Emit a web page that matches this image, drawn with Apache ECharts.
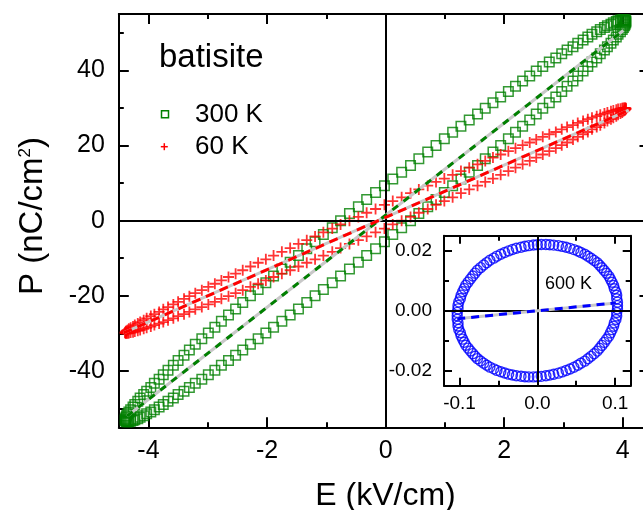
<!DOCTYPE html>
<html><head><meta charset="utf-8">
<script src="https://cdn.jsdelivr.net/npm/echarts@6/dist/echarts.min.js"></script>
<style>html,body{margin:0;padding:0;background:#fff}#c{width:643px;height:510px}</style>
</head><body><div id="c"></div>
<script>
// ---------- data ----------
const E300 = [4.05,4.05,4.04,4.03,4.01,3.99,3.96,3.92,3.89,3.84,3.80,3.74,3.69,3.62,3.56,3.48,3.41,3.33,3.24,3.16,3.06,2.97,2.87,2.76,2.65,2.54,2.43,2.31,2.19,2.07,1.94,1.81,1.68,1.55,1.41,1.27,1.13,0.99,0.85,0.71,0.56,0.42,0.27,0.12,-0.02,-0.17,-0.32,-0.46,-0.61,-0.76,-0.90,-1.05,-1.19,-1.33,-1.47,-1.61,-1.75,-1.89,-2.02,-2.15,-2.28,-2.41,-2.53,-2.65,-2.77,-2.88,-2.99,-3.10,-3.21,-3.31,-3.40,-3.50,-3.58,-3.67,-3.75,-3.82,-3.90,-3.96,-4.03,-4.08,-4.14,-4.18,-4.23,-4.26,-4.30,-4.33,-4.35,-4.37,-4.38,-4.39,
-4.39,-4.39,-4.38,-4.37,-4.35,-4.33,-4.30,-4.26,-4.23,-4.18,-4.14,-4.08,-4.03,-3.96,-3.90,-3.82,-3.75,-3.67,-3.58,-3.50,-3.40,-3.31,-3.21,-3.10,-2.99,-2.88,-2.77,-2.65,-2.53,-2.41,-2.28,-2.15,-2.02,-1.89,-1.75,-1.61,-1.47,-1.33,-1.19,-1.05,-0.90,-0.76,-0.61,-0.46,-0.32,-0.17,-0.02,0.12,0.27,0.42,0.56,0.71,0.85,0.99,1.13,1.27,1.41,1.55,1.68,1.81,1.94,2.07,2.19,2.31,2.43,2.54,2.65,2.76,2.87,2.97,3.06,3.16,3.24,3.33,3.41,3.48,3.56,3.62,3.69,3.74,3.80,3.84,3.89,3.92,3.96,3.99,4.01,4.03,4.04,4.05];
const P300 = [53.0,53.2,53.4,53.5,53.5,53.5,53.4,53.2,53.0,52.7,52.3,51.9,51.4,50.9,50.3,49.6,48.9,48.1,47.2,46.3,45.4,44.4,43.3,42.2,41.0,39.8,38.5,37.2,35.8,34.4,32.9,31.4,29.9,28.4,26.8,25.1,23.5,21.8,20.0,18.3,16.5,14.7,12.9,11.1,9.3,7.5,5.6,3.7,1.9,0,-1.9,-3.7,-5.6,-7.5,-9.3,-11.1,-12.9,-14.7,-16.5,-18.3,-20.0,-21.8,-23.5,-25.1,-26.8,-28.4,-29.9,-31.4,-32.9,-34.4,-35.8,-37.2,-38.5,-39.8,-41.0,-42.2,-43.3,-44.4,-45.4,-46.3,-47.2,-48.1,-48.9,-49.6,-50.3,-50.9,-51.4,-51.9,-52.3,-52.7,
-53.0,-53.2,-53.4,-53.5,-53.5,-53.5,-53.4,-53.2,-53.0,-52.7,-52.3,-51.9,-51.4,-50.9,-50.3,-49.6,-48.9,-48.1,-47.2,-46.3,-45.4,-44.4,-43.3,-42.2,-41.0,-39.8,-38.5,-37.2,-35.8,-34.4,-32.9,-31.4,-29.9,-28.4,-26.8,-25.1,-23.5,-21.8,-20.0,-18.3,-16.5,-14.7,-12.9,-11.1,-9.3,-7.5,-5.6,-3.7,-1.9,0,1.9,3.7,5.6,7.5,9.3,11.1,12.9,14.7,16.5,18.3,20.0,21.8,23.5,25.1,26.8,28.4,29.9,31.4,32.9,34.4,35.8,37.2,38.5,39.8,41.0,42.2,43.3,44.4,45.4,46.3,47.2,48.1,48.9,49.6,50.3,50.9,51.4,51.9,52.3,52.7];
const E60 = [4.05,4.05,4.04,4.03,4.01,3.99,3.96,3.92,3.89,3.84,3.80,3.74,3.69,3.62,3.56,3.48,3.41,3.33,3.24,3.16,3.06,2.97,2.87,2.76,2.65,2.54,2.43,2.31,2.19,2.07,1.94,1.81,1.68,1.55,1.41,1.27,1.13,0.99,0.85,0.71,0.56,0.42,0.27,0.12,-0.02,-0.17,-0.32,-0.46,-0.61,-0.76,-0.90,-1.05,-1.19,-1.33,-1.47,-1.61,-1.75,-1.89,-2.02,-2.15,-2.28,-2.41,-2.53,-2.65,-2.77,-2.88,-2.99,-3.10,-3.21,-3.31,-3.40,-3.50,-3.58,-3.67,-3.75,-3.82,-3.90,-3.96,-4.03,-4.08,-4.14,-4.18,-4.23,-4.26,-4.30,-4.33,-4.35,-4.37,-4.38,-4.39,
-4.39,-4.39,-4.38,-4.37,-4.35,-4.33,-4.30,-4.26,-4.23,-4.18,-4.14,-4.08,-4.03,-3.96,-3.90,-3.82,-3.75,-3.67,-3.58,-3.50,-3.40,-3.31,-3.21,-3.10,-2.99,-2.88,-2.77,-2.65,-2.53,-2.41,-2.28,-2.15,-2.02,-1.89,-1.75,-1.61,-1.47,-1.33,-1.19,-1.05,-0.90,-0.76,-0.61,-0.46,-0.32,-0.17,-0.02,0.12,0.27,0.42,0.56,0.71,0.85,0.99,1.13,1.27,1.41,1.55,1.68,1.81,1.94,2.07,2.19,2.31,2.43,2.54,2.65,2.76,2.87,2.97,3.06,3.16,3.24,3.33,3.41,3.48,3.56,3.62,3.69,3.74,3.80,3.84,3.89,3.92,3.96,3.99,4.01,4.03,4.04,4.05];
const P60 = [29.8,29.9,30.0,30.0,30.0,29.9,29.8,29.7,29.5,29.3,29.1,28.8,28.5,28.2,27.8,27.4,27.0,26.5,26.0,25.4,24.9,24.3,23.6,23.0,22.3,21.6,20.8,20.1,19.3,18.5,17.6,16.8,15.9,15.0,14.1,13.2,12.2,11.2,10.3,9.3,8.3,7.3,6.2,5.2,4.2,3.1,2.1,1.0,0,-1.0,-2.1,-3.1,-4.2,-5.2,-6.2,-7.3,-8.3,-9.3,-10.3,-11.2,-12.2,-13.2,-14.1,-15.0,-15.9,-16.8,-17.6,-18.5,-19.3,-20.1,-20.8,-21.6,-22.3,-23.0,-23.6,-24.3,-24.9,-25.4,-26.0,-26.5,-27.0,-27.4,-27.8,-28.2,-28.5,-28.8,-29.1,-29.3,-29.5,-29.7,
-29.8,-29.9,-30.0,-30.0,-30.0,-29.9,-29.8,-29.7,-29.5,-29.3,-29.1,-28.8,-28.5,-28.2,-27.8,-27.4,-27.0,-26.5,-26.0,-25.4,-24.9,-24.3,-23.6,-23.0,-22.3,-21.6,-20.8,-20.1,-19.3,-18.5,-17.6,-16.8,-15.9,-15.0,-14.1,-13.2,-12.2,-11.2,-10.3,-9.3,-8.3,-7.3,-6.2,-5.2,-4.2,-3.1,-2.1,-1.0,0,1.0,2.1,3.1,4.2,5.2,6.2,7.3,8.3,9.3,10.3,11.2,12.2,13.2,14.1,15.0,15.9,16.8,17.6,18.5,19.3,20.1,20.8,21.6,22.3,23.0,23.6,24.3,24.9,25.4,26.0,26.5,27.0,27.4,27.8,28.2,28.5,28.8,29.1,29.3,29.5,29.7];
const E600 = [0.103,0.103,0.102,0.102,0.101,0.099,0.098,0.096,0.094,0.092,0.089,0.086,0.083,0.080,0.077,0.073,0.069,0.065,0.061,0.056,0.052,0.047,0.042,0.037,0.032,0.027,0.021,0.016,0.011,0.005,0,-0.005,-0.011,-0.016,-0.021,-0.027,-0.032,-0.037,-0.042,-0.047,-0.052,-0.056,-0.061,-0.065,-0.069,-0.073,-0.077,-0.080,-0.083,-0.086,-0.089,-0.092,-0.094,-0.096,-0.098,-0.099,-0.101,-0.102,-0.102,-0.103,
-0.103,-0.103,-0.102,-0.102,-0.101,-0.099,-0.098,-0.096,-0.094,-0.092,-0.089,-0.086,-0.083,-0.080,-0.077,-0.073,-0.069,-0.065,-0.061,-0.056,-0.052,-0.047,-0.042,-0.037,-0.032,-0.027,-0.021,-0.016,-0.011,-0.005,0,0.005,0.011,0.016,0.021,0.027,0.032,0.037,0.042,0.047,0.052,0.056,0.061,0.065,0.069,0.073,0.077,0.080,0.083,0.086,0.089,0.092,0.094,0.096,0.098,0.099,0.101,0.102,0.102,0.103];
const P600 = [0.0017,0.00285,0.00399,0.00512,0.00624,0.00734,0.00842,0.00947,0.0105,0.0115,0.01247,0.01341,0.01431,0.01517,0.01598,0.01676,0.01749,0.01817,0.0188,0.01938,0.0199,0.02037,0.02079,0.02115,0.02145,0.02169,0.02187,0.022,0.02206,0.02206,0.022,0.02188,0.0217,0.02146,0.02117,0.02081,0.0204,0.01993,0.01941,0.01883,0.0182,0.01753,0.0168,0.01603,0.01521,0.01435,0.01346,0.01252,0.01156,0.01056,0.00953,0.00847,0.00739,0.0063,0.00518,0.00405,0.00291,0.00176,0.00061,-0.00055,
-0.0017,-0.00285,-0.00399,-0.00512,-0.00624,-0.00734,-0.00842,-0.00947,-0.0105,-0.0115,-0.01247,-0.01341,-0.01431,-0.01517,-0.01598,-0.01676,-0.01749,-0.01817,-0.0188,-0.01938,-0.0199,-0.02037,-0.02079,-0.02115,-0.02145,-0.02169,-0.02187,-0.022,-0.02206,-0.02206,-0.022,-0.02188,-0.0217,-0.02146,-0.02117,-0.02081,-0.0204,-0.01993,-0.01941,-0.01883,-0.0182,-0.01753,-0.0168,-0.01603,-0.01521,-0.01435,-0.01346,-0.01252,-0.01156,-0.01056,-0.00953,-0.00847,-0.00739,-0.0063,-0.00518,-0.00405,-0.00291,-0.00176,-0.00061,0.00055];
// straight guide lines through each loop
const fit300E = [-4.36, 4.01], fit300P = [-52.0, 50.6];
const fit60E  = [-4.42, 4.10], fit60P  = [-29.9, 29.4];
const fit600E = [-0.103, 0.101], fit600P = [-0.0027, 0.0026];
// ticks
const xMajor = [-4,-2,0,2,4], xMinor = [-3,-1,1,3];
const yMajor = [-40,-20,0,20,40], yMinor = [-50,-30,-10,10,30,50];
const ixMajor = [-0.1,0,0.1], ixMinor = [-0.05,0.05];
const iyMajor = [-0.02,0,0.02], iyMinor = [-0.01,0.01];
const seriesNames = ['300 K','60 K','600 K'];

// ---------- chart ----------
const FONT = '"Liberation Sans", Arial, Helvetica, sans-serif';
const zip = (a,b) => a.map((v,i)=>[v,b[i]]);
const chart = echarts.init(document.getElementById('c'), null, {renderer:'canvas'});

function ax(o){
  return {
    type:'value', gridIndex:o.g, position:o.pos, min:o.min, max:o.max,
    axisLine:{show:!!o.line, onZero:false, lineStyle:{color:'#000', width:2}},
    axisTick:{show:true, inside:true, length:o.len, customValues:o.ticks, lineStyle:{color:'#000', width:2}},
    axisLabel: o.labels ? {show:true, customValues:o.labels, formatter:o.fmt, fontSize:o.fs,
      fontFamily:FONT, color:'#000', margin:o.margin} : {show:false},
    splitLine:{show:false}, minorTick:{show:false}, minorSplitLine:{show:false},
    axisPointer:{show:false}, silent:true
  };
}
const XMIN=-4.5, XMAX=4.45, YMIN=-55, YMAX=55;
const IXMIN=-0.12, IXMAX=0.12, IYMIN=-0.025, IYMAX=0.025;
const fmtInt = v => String(Math.round(v));
const xAxes = [
  ax({g:0,pos:'bottom',min:XMIN,max:XMAX,line:true,len:10,ticks:xMajor,labels:xMajor,fmt:fmtInt,fs:25,margin:11}),
  ax({g:0,pos:'bottom',min:XMIN,max:XMAX,len:5,ticks:xMinor}),
  ax({g:0,pos:'top',min:XMIN,max:XMAX,line:true,len:10,ticks:xMajor}),
  ax({g:0,pos:'top',min:XMIN,max:XMAX,len:5,ticks:xMinor}),
  ax({g:1,pos:'bottom',min:IXMIN,max:IXMAX,line:true,len:8,ticks:ixMajor,labels:ixMajor,fmt:v=>v.toFixed(1),fs:19,margin:9}),
  ax({g:1,pos:'bottom',min:IXMIN,max:IXMAX,len:5,ticks:ixMinor}),
  ax({g:1,pos:'top',min:IXMIN,max:IXMAX,line:true,len:8,ticks:ixMajor}),
  ax({g:1,pos:'top',min:IXMIN,max:IXMAX,len:5,ticks:ixMinor})
];
const yAxes = [
  ax({g:0,pos:'left',min:YMIN,max:YMAX,line:true,len:10,ticks:yMajor,labels:yMajor,fmt:fmtInt,fs:25,margin:14}),
  ax({g:0,pos:'left',min:YMIN,max:YMAX,len:5,ticks:yMinor}),
  ax({g:0,pos:'right',min:YMIN,max:YMAX,line:true,len:10,ticks:yMajor}),
  ax({g:0,pos:'right',min:YMIN,max:YMAX,len:5,ticks:yMinor}),
  ax({g:1,pos:'left',min:IYMIN,max:IYMAX,line:true,len:8,ticks:iyMajor,labels:iyMajor,fmt:v=>v.toFixed(2),fs:19,margin:12}),
  ax({g:1,pos:'left',min:IYMIN,max:IYMAX,len:5,ticks:iyMinor}),
  ax({g:1,pos:'right',min:IYMIN,max:IYMAX,line:true,len:8,ticks:iyMajor}),
  ax({g:1,pos:'right',min:IYMIN,max:IYMAX,len:5,ticks:iyMinor})
];

const zeroLines = (xi, yi) => ({
  type:'line', xAxisIndex:xi, yAxisIndex:yi, data:[], silent:true, z:1,
  markLine:{silent:true, animation:false, symbol:['none','none'], label:{show:false},
    lineStyle:{color:'#000', width:2, type:'solid'}, emphasis:{disabled:true},
    data:[{xAxis:0},{yAxis:0}]}
});
const guide = (xi, yi, ex, py, color, dash) => ([
  {type:'line', xAxisIndex:xi, yAxisIndex:yi, data:zip(ex,py), symbol:'none', silent:true, z:5,
   lineStyle:{color:'#c8c8c8', width:3}},
  {type:'line', xAxisIndex:xi, yAxisIndex:yi, data:zip(ex,py), symbol:'none', silent:true, z:6,
   lineStyle:{color:color, width:3, type:dash}}
]);

const option = {
  animation:false,
  backgroundColor:'#fff',
  grid:[
    {left:118.8, top:14, width:530.7, height:413.3, containLabel:false, outerBoundsMode:'none'},
    {left:444, top:235.7, width:186.7, height:150, containLabel:false, outerBoundsMode:'none'}
  ],
  xAxis:xAxes, yAxis:yAxes,
  series:[
    zeroLines(0,0),
    zeroLines(4,4),
    {name:seriesNames[0], type:'scatter', xAxisIndex:0, yAxisIndex:0, data:zip(E300,P300), silent:true, z:3,
     symbol:'rect', symbolSize:9.5,
     itemStyle:{color:'rgba(0,0,0,0)', borderColor:'#008000', borderWidth:1.5}},
    {name:seriesNames[1], type:'scatter', xAxisIndex:0, yAxisIndex:0, data:zip(E60,P60), silent:true, z:4,
     symbol:'path://M0,5L10,5M5,0L5,10', symbolSize:11,
     itemStyle:{color:'rgba(0,0,0,0)', borderColor:'#ff0000', borderWidth:1.8}},
    ...guide(0,0,fit300E,fit300P,'#008000',[7,7]),
    ...guide(0,0,fit60E,fit60P,'#ff0000',[9,6]),
    {name:seriesNames[2], type:'scatter', xAxisIndex:4, yAxisIndex:4, data:zip(E600,P600), silent:true, z:3,
     symbol:'circle', symbolSize:10,
     itemStyle:{color:'rgba(0,0,0,0)', borderColor:'#0000ff', borderWidth:1.4}},
    ...guide(4,4,fit600E,fit600P,'#0000ff',[8,6])
  ],
  graphic:[
    {type:'text', x:159, y:58, silent:true,
     style:{text:'batisite', font:'33px '+FONT, fill:'#000', align:'left', verticalAlign:'middle', textAlign:'left', textVerticalAlign:'middle'}},
    {type:'rect', silent:true, shape:{x:161.5, y:110.8, width:7, height:7},
     style:{fill:'none', stroke:'#008000', lineWidth:1.5}},
    {type:'line', silent:true, shape:{x1:160.8, y1:146.7, x2:167.8, y2:146.7}, style:{stroke:'#ff0000', lineWidth:1.5}},
    {type:'line', silent:true, shape:{x1:164.3, y1:143.2, x2:164.3, y2:150.2}, style:{stroke:'#ff0000', lineWidth:1.5}},
    {type:'text', x:195, y:114.7, silent:true,
     style:{text:seriesNames[0], font:'26px '+FONT, fill:'#000', align:'left', verticalAlign:'middle', textAlign:'left', textVerticalAlign:'middle'}},
    {type:'text', x:195, y:147, silent:true,
     style:{text:seriesNames[1], font:'26px '+FONT, fill:'#000', align:'left', verticalAlign:'middle', textAlign:'left', textVerticalAlign:'middle'}},
    {type:'text', x:545, y:284.5, silent:true, z:10,
     style:{text:seriesNames[2], font:'18px '+FONT, fill:'#000', align:'left', verticalAlign:'middle', textAlign:'left', textVerticalAlign:'middle'}},
    {type:'text', x:385.5, y:495.7, silent:true,
     style:{text:'E (kV/cm)', font:'32px '+FONT, fill:'#000', align:'center', verticalAlign:'middle', textAlign:'center', textVerticalAlign:'middle'}},
    {type:'text', x:33, y:216, rotation:Math.PI/2, silent:true,
     style:{text:'{a|P (nC/cm}{s|2}{a|)}', fill:'#000', align:'center', verticalAlign:'middle', textAlign:'center', textVerticalAlign:'middle',
       rich:{a:{fontSize:33, fontFamily:FONT, fill:'#000', color:'#000'},
             s:{fontSize:17, fontFamily:FONT, fill:'#000', color:'#000', verticalAlign:'top'}}}}
  ]
};
chart.setOption(option);
</script>
</body></html>
